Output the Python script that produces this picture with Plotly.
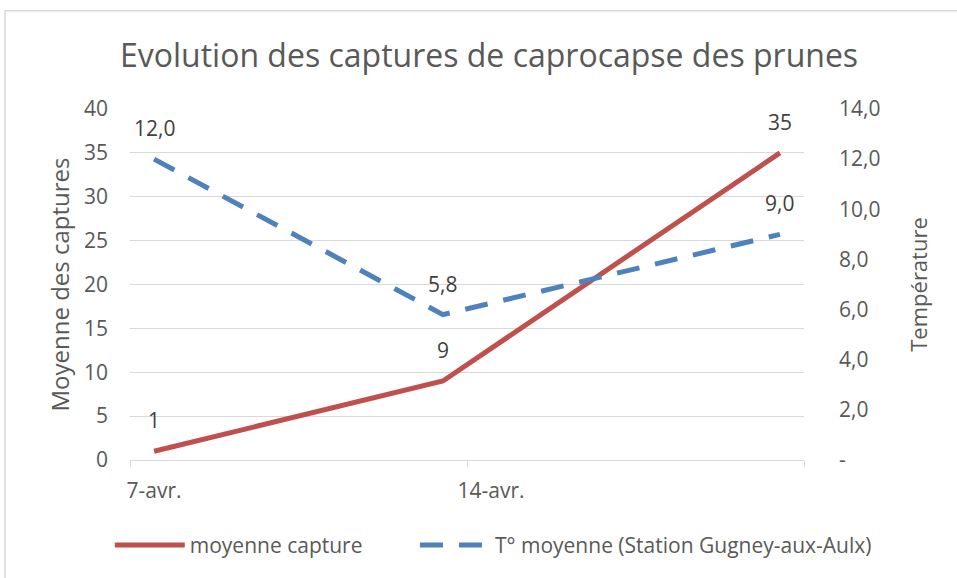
import pandas as pd
import plotly.graph_objects as go

# ---- data ----
dates = ["2021-04-07", "2021-04-13", "2021-04-20"]
captures = [1, 9, 35]
temperatures = [12.0, 5.8, 9.0]
tick_dates = ["2021-04-07", "2021-04-14"]
tick_labels = ["7-avr.", "14-avr."]
temp_tickvals = [0, 2, 4, 6, 8, 10, 12, 14]
temp_ticktext = ["-", "2,0", "4,0", "6,0", "8,0", "10,0", "12,0", "14,0"]
x_range = ["2021-04-07", "2021-04-21"]

RED = "#C0504D"
BLUE = "#4F81BD"
GRID = "#D9D9D9"
AXTXT = "#595959"
LBLTXT = "#404040"
FONT = "Open Sans"

day_ms = 86400000
half_day = pd.Timedelta(hours=12)
tickvals = [d + half_day for d in pd.to_datetime(tick_dates)]
mid_dates = [d + half_day for d in pd.to_datetime(dates)]

fig = go.Figure()
fig.add_trace(go.Scatter(
    x=dates, y=captures, name="moyenne capture", mode="lines",
    xperiod=day_ms, xperiodalignment="middle", showlegend=True,
    line=dict(color=RED, width=5), yaxis="y", legend="legend",
))
fig.add_trace(go.Scatter(
    x=dates, y=temperatures, name="T° moyenne (Station Gugney-aux-Aulx)", mode="lines",
    xperiod=day_ms, xperiodalignment="middle", showlegend=True,
    line=dict(color=BLUE, width=5, dash="23px,16px"), yaxis="y2", legend="legend2",
))

annotations = []
for xd, v in zip(mid_dates, captures):
    annotations.append(dict(x=xd, y=v, xref="x", yref="y", text=str(v),
                            showarrow=False, yshift=31, yanchor="middle",
                            font=dict(family=FONT, size=21, color=LBLTXT)))
for xd, v in zip(mid_dates, temperatures):
    annotations.append(dict(x=xd, y=v, xref="x", yref="y2",
                            text=f"{v:.1f}".replace(".", ","),
                            showarrow=False, yshift=31, yanchor="middle",
                            font=dict(family=FONT, size=21, color=LBLTXT)))

legend_common = dict(orientation="h", xanchor="left", y=-0.243, yanchor="middle",
                     font=dict(size=21, color=AXTXT), itemwidth=70,
                     bgcolor="rgba(0,0,0,0)", visible=True)

fig.update_layout(
    width=957, height=578,
    showlegend=True,
    margin=dict(l=130, r=153, t=109, b=115),
    paper_bgcolor="white", plot_bgcolor="white",
    font=dict(family=FONT, color=AXTXT, size=21),
    title=dict(text="Evolution des captures de caprocapse des prunes",
               x=0.511, xref="container", y=0.903, yref="container",
               xanchor="center", yanchor="middle",
               font=dict(family=FONT, size=32, color=AXTXT)),
    xaxis=dict(type="date", range=x_range, tickvals=tickvals, ticktext=tick_labels,
               ticks="", showgrid=False, showline=True, linecolor=GRID, linewidth=1,
               tickfont=dict(size=21, color=AXTXT), ticklabelstandoff=12,
               minor=dict(ticks="outside", ticklen=6, tickcolor=GRID,
                          tick0=x_range[0], dtick=7 * day_ms, showgrid=False)),
    yaxis=dict(range=[0, 40], dtick=5, showgrid=True, gridcolor=GRID, gridwidth=1,
               zeroline=False, showline=False, ticks="",
               tickfont=dict(size=21, color=AXTXT), ticklabelstandoff=21,
               title=dict(text="Moyenne des captures", standoff=7,
                          font=dict(size=24, color=AXTXT))),
    yaxis2=dict(range=[0, 14], overlaying="y", side="right",
                tickvals=temp_tickvals, ticktext=temp_ticktext,
                showgrid=False, zeroline=False, showline=False, ticks="",
                tickfont=dict(size=21, color=AXTXT), ticklabelstandoff=34,
                title=dict(text="Température", standoff=32,
                           font=dict(size=22, color=AXTXT))),
    legend=dict(x=-0.03, **legend_common),
    legend2=dict(x=0.4228, **legend_common),
    annotations=annotations,
    shapes=[dict(type="rect", xref="paper", yref="paper",
                 x0=-0.1855, x1=1.5, y0=-0.5, y1=1.2797,
                 line=dict(color=GRID, width=1.5), fillcolor="rgba(0,0,0,0)",
                 layer="below")],
)

fig.write_html("out.html", config={"displayModeBar": False},
               post_script="document.body.style.margin='0';")
